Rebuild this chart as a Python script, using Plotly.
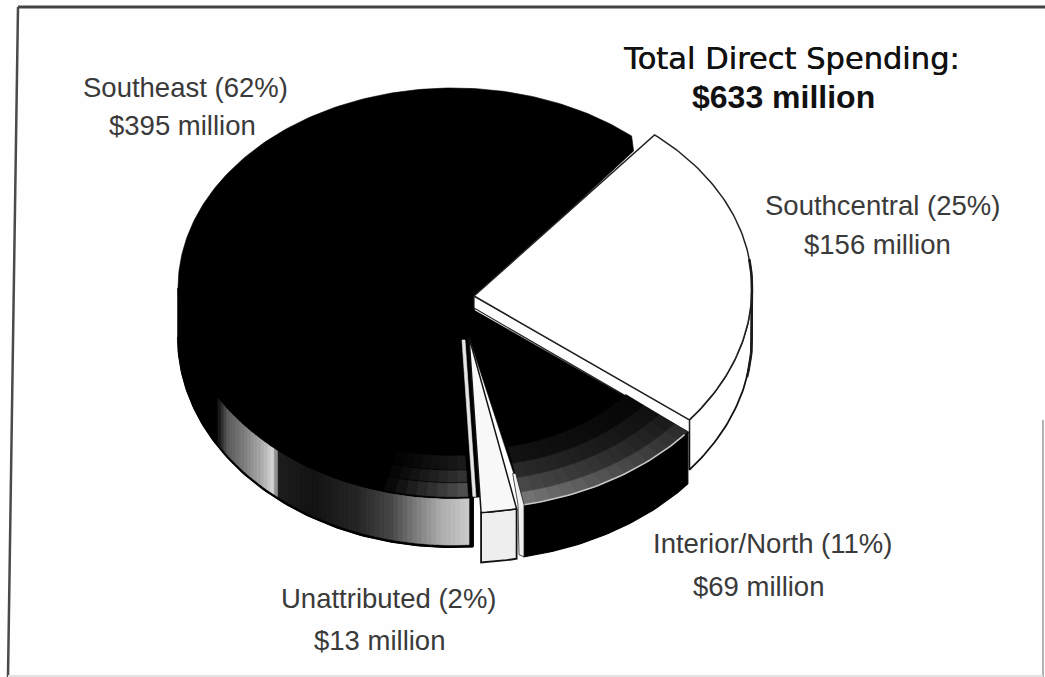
import math
import plotly.graph_objects as go

# Direct spending by region, in millions of dollars, clockwise from the first slice
REGIONS = ["Southcentral", "Interior/North", "Unattributed", "Southeast"]
SPENDING = [156, 69, 13, 395]
SHARES = [25, 11, 2, 62]
TITLE_LINES = ["Total Direct Spending:", "$633 million"]

# Pie projection: first slice edge, flattening of the disc
START_ANGLE = 40.5
RY_BACK, RY_FRONT = 200, 210

# Exploded position of each slice: centre, hub outline of the top face, radius, wall depth
PLACEMENT = {
    "Southeast": dict(c=(453, 288), hub=[(476, 297), (472, 336), (469, 337), (480, 497)], rx=275, depth=49),
    "Southcentral": dict(c=(474, 287), hub=[(474, 296)], rx=278, depth=50),
    "Interior/North": dict(c=(467, 299), hub=[(472, 309)], rx=285, depth=52),
    "Unattributed": dict(c=(461, 303), hub=[(469, 337)], rx=278, depth=50),
}
SE_SLIVER_START = (462, 340)
IO_HUB_TAIL = (469, 337)

# Label centres
LABEL_POS = {
    "Southeast": ((185, 87), (182, 125)),
    "Southcentral": ((882, 205), (877, 244)),
    "Interior/North": ((772, 543), (758, 586)),
    "Unattributed": ((389, 598), (379, 640)),
}

total = sum(SPENDING)
angles = {}
a = START_ANGLE
for name, v in zip(REGIONS, SPENDING):
    angles[name] = (a, a + 360 * v / total)
    a += 360 * v / total


def rim(name, ang, r=1.0, drop=0.0):
    p = PLACEMENT[name]
    t = math.radians(ang)
    c = math.cos(t)
    ry = RY_BACK if c > 0 else RY_FRONT
    return p["c"][0] + p["rx"] * r * math.sin(t), p["c"][1] - ry * r * c + drop


def arc(name, a0, a1, r=1.0, drop=0.0, step=1.0):
    n = max(2, int(abs(a1 - a0) / step) + 1)
    return [rim(name, a0 + (a1 - a0) * i / (n - 1), r, drop) for i in range(n)]


def polygon(pts, fill, line=None, width=0.0):
    xs = [p[0] for p in pts] + [pts[0][0]]
    ys = [p[1] for p in pts] + [pts[0][1]]
    return go.Scatter(
        x=xs, y=ys, mode="lines", fill="toself", fillcolor=fill,
        line=dict(color=line or fill, width=width if line else 0.6),
        hoverinfo="skip", showlegend=False,
    )


def stroke(pts, color, width):
    return go.Scatter(
        x=[p[0] for p in pts], y=[p[1] for p in pts], mode="lines",
        line=dict(color=color, width=width), hoverinfo="skip", showlegend=False,
    )


def grey(level):
    v = int(max(0, min(255, level)))
    return f"rgb({v},{v},{v})"


def lerp_stops(stops, x):
    if x <= stops[0][0]:
        return stops[0][1]
    for (x0, y0), (x1, y1) in zip(stops, stops[1:]):
        if x <= x1:
            return y0 + (y1 - y0) * (x - x0) / (x1 - x0)
    return stops[-1][1]


fig = go.Figure()

# Southeast: wall first, with its worn grey shading, then the top face
se0, se1 = angles["Southeast"]
d = PLACEMENT["Southeast"]["depth"]
fig.add_trace(polygon(arc("Southeast", se0, 270) + arc("Southeast", 270, se0, drop=d), "#000000", "#000000", 1.5))
WALL_SHADE = [(se0, 205), (se0 + 6, 175), (se0 + 12, 120), (se0 + 17, 70), (se0 + 24, 38),
              (se0 + 34, 20), (se0 + 43.5, 30), (se0 + 44, 222), (se0 + 48, 170),
              (se0 + 54, 120), (se0 + 59, 90), (se0 + 63, 0), (270, 0)]
ang = se0 + 0.8
while ang < se0 + 62:
    shade = lerp_stops(WALL_SHADE, ang)
    if shade > 4:
        pts = arc("Southeast", ang, ang + 1.1, drop=1) + arc("Southeast", ang + 1.1, ang, drop=d - 2)
        fig.add_trace(polygon(pts, grey(shade)))
    ang += 1.0
fig.add_trace(stroke(arc("Southeast", se0, 270, drop=d), "#000000", 2))
far_tip = rim("Southeast", se1)
fig.add_trace(polygon(
    PLACEMENT["Southeast"]["hub"] + arc("Southeast", se0, se1) + [(far_tip[0] + 2, far_tip[1] + 15)],
    "#000000",
))
near_tip = rim("Southeast", se0)
fig.add_trace(stroke([near_tip, (near_tip[0], near_tip[1] + d)], "#000000", 2))
fig.add_trace(stroke(arc("Southeast", se0, se0 + 46), "#000000", 1.2))
# Dark wear on the rim above the wall
for i in range(8):
    a0 = se0 + 1 + i * 2.2
    for r0, r1, lvl in [(0.93, 1.0, 78), (0.87, 0.93, 50), (0.8, 0.87, 26)]:
        shade = lvl * (1 - i / 8)
        pts = arc("Southeast", a0, a0 + 2.3, r=r1 - 0.006) + arc("Southeast", a0 + 2.3, a0, r=r0)
        fig.add_trace(polygon(pts, grey(shade)))
# Thin light edge of the Southeast slice next to the Unattributed wedge
sx, sy = SE_SLIVER_START
fig.add_trace(polygon([(sx, sy), (sx + 3, sy), (near_tip[0] + 3, near_tip[1] - 1), (near_tip[0], near_tip[1] - 1)], "#e6e6e6"))

# Southcentral: white slice with a black outline
sc0, sc1 = angles["Southcentral"]
d = PLACEMENT["Southcentral"]["depth"]
fig.add_trace(polygon(arc("Southcentral", 91, sc1) + arc("Southcentral", sc1, 91, drop=d), "#ffffff", "#111111", 1.8))
hub = PLACEMENT["Southcentral"]["hub"][0]
end = rim("Southcentral", sc1)
fig.add_trace(polygon([hub, end, (end[0], end[1] + 13), (hub[0], hub[1] + 12)], "#fdfdfd", "#222222", 1.2))
fig.add_trace(polygon([hub] + arc("Southcentral", sc0, sc1), "#ffffff", "#222222", 1.5))
# Heavier line where the disc turns away on the right
fig.add_trace(stroke(arc("Southcentral", 82, 92) + arc("Southcentral", 92, 101, drop=d), "#1a1a1a", 2.6))

# Interior/North: black wall and top face, greying towards the rim
io0, io1 = angles["Interior/North"]
d = PLACEMENT["Interior/North"]["depth"]
fig.add_trace(polygon(arc("Interior/North", io0, io1) + arc("Interior/North", io1, io0, drop=d), "#000000", "#000000", 1.2))
hub = PLACEMENT["Interior/North"]["hub"][0]
fig.add_trace(polygon([hub] + arc("Interior/North", io0, io1) + [IO_HUB_TAIL], "#000000"))
rings = [(0.72, 0.8, 16), (0.8, 0.87, 36), (0.87, 0.94, 62), (0.94, 1.0, 100)]
steps = 14
for i in range(steps):
    a0 = io0 + (io1 - io0) * i / steps
    a1 = io0 + (io1 - io0) * (i + 1) / steps
    for r0, r1, lvl in rings:
        shade = lvl * (0.45 + 0.75 * i / steps)
        fig.add_trace(polygon(arc("Interior/North", a0, a1, r=r1) + arc("Interior/North", a1, a0, r=r0), grey(shade)))
fig.add_trace(stroke(arc("Interior/North", io0 + 1, io1), "#c8c8c8", 1.6))
# Light left-hand edge of the slice, seen beside the Unattributed wedge
tip = rim("Interior/North", io1)
cx, cy = hub
f0 = 0.84
base = (cx + (tip[0] - cx) * f0, cy + (tip[1] - cy) * f0)
fig.add_trace(polygon([base, tip, (tip[0], tip[1] + d), (tip[0] - 5, tip[1] + d - 2), (tip[0] - 6, tip[1]), (base[0] - 3, base[1])], "#f0f0f0", "#222222", 0.8))

# Unattributed: pale narrow wedge with its front wall
un0, un1 = angles["Unattributed"]
d = PLACEMENT["Unattributed"]["depth"]
hub = PLACEMENT["Unattributed"]["hub"][0]
fig.add_trace(polygon(arc("Unattributed", un0, un1) + arc("Unattributed", un1, un0, drop=d), "#eeeeee", "#111111", 1.8))
fig.add_trace(polygon([hub] + arc("Unattributed", un0, un1), "#f8f8f8", "#111111", 1.5))

# Slice labels and the overall total
annotations = []
for name, spend, share in zip(REGIONS, SPENDING, SHARES):
    p1, p2 = LABEL_POS[name]
    annotations.append(dict(x=p1[0], y=p1[1], text=f"{name} ({share}%)"))
    annotations.append(dict(x=p2[0], y=p2[1], text=f"${spend} million"))
for ann in annotations:
    ann.update(xref="x", yref="y", showarrow=False, xanchor="center", yanchor="middle",
               font=dict(family="Liberation Sans", size=27.5, color="#3a3a3a"))
title_font = dict(family="DejaVu Sans", size=30.5, color="#111111", shadow="0.5px 0 0 #111111")
annotations.append(dict(x=791, y=58, text=TITLE_LINES[0], xref="x", yref="y", showarrow=False, font=title_font))
annotations.append(dict(x=783, y=97, text=f"<b>{TITLE_LINES[1]}</b>", xref="x", yref="y", showarrow=False,
                        font=dict(family="Liberation Sans", size=32, color="#111111")))

# Hand-ruled frame around the chart
frame = [
    dict(x0=18, y0=7, x1=1045, y1=7, line=dict(color="#444444", width=3)),
    dict(x0=18, y0=7, x1=8, y1=677, line=dict(color="#4a4a4a", width=2.5)),
    dict(x0=1043, y0=420, x1=1043, y1=677, line=dict(color="#999999", width=1.5)),
    dict(x0=8, y0=676, x1=1043, y1=676, line=dict(color="#e2e2e2", width=2)),
]
for s in frame:
    s.update(type="line", xref="x", yref="y", layer="below")

fig.update_layout(
    width=1045, height=677, autosize=False,
    margin=dict(l=0, r=0, t=0, b=0),
    paper_bgcolor="#fefefe", plot_bgcolor="#fefefe",
    showlegend=False,
    xaxis=dict(range=[0, 1045], visible=False, fixedrange=True),
    yaxis=dict(range=[677, 0], visible=False, fixedrange=True),
    annotations=annotations, shapes=frame,
)
fig.write_html("out.html", config={"displayModeBar": False})
